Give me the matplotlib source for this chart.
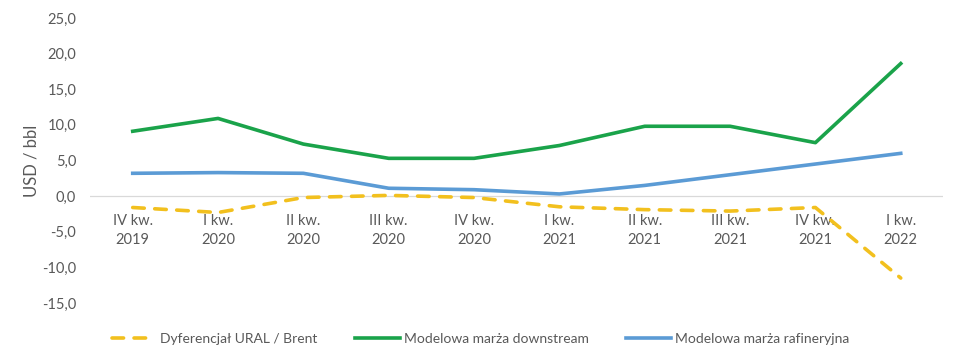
import matplotlib
matplotlib.use("Agg")
import matplotlib.pyplot as plt
from matplotlib.ticker import FuncFormatter, MultipleLocator

plt.rcParams["font.family"] = ["Lato", "DejaVu Sans"]

quarters = ["IV kw.\n2019", "I kw.\n2020", "II kw.\n2020", "III kw.\n2020", "IV kw.\n2020",
            "I kw.\n2021", "II kw.\n2021", "III kw.\n2021", "IV kw.\n2021", "I kw.\n2022"]
ural_brent = [-1.6, -2.3, -0.2, 0.1, -0.2, -1.5, -1.9, -2.1, -1.6, -11.5]
downstream = [9.1, 10.9, 7.3, 5.3, 5.3, 7.1, 9.8, 9.8, 7.5, 18.6]
refinery = [3.2, 3.3, 3.2, 1.1, 0.9, 0.3, 1.5, 3.0, 4.5, 6.0]

GREY = "#595959"
YMIN, YMAX = -15, 25
fig = plt.figure(figsize=(9.61, 3.59), dpi=100)
ax = fig.add_axes([0.0937, 0.156, 0.888, 0.794])

x = range(len(quarters))
ax.axhline(0, color="#d9d9d9", lw=0.9, zorder=1)
ax.plot(x, ural_brent, color="#f2c01e", lw=2.6, dashes=(3.2, 2.9), dash_capstyle="round",
        label="Dyferencjał URAL / Brent", zorder=3)
ax.plot(x, downstream, color="#1aa34a", lw=2.6, label="Modelowa marża downstream",
        solid_joinstyle="round", zorder=3)
ax.plot(x, refinery, color="#5b9bd5", lw=2.6, label="Modelowa marża rafineryjna",
        solid_joinstyle="round", zorder=3)

ax.set_xlim(-0.5, len(quarters) - 0.5)
ax.set_ylim(YMIN, YMAX)
ax.yaxis.set_major_locator(MultipleLocator(5))
ax.yaxis.set_major_formatter(FuncFormatter(lambda v, _: f"{v:.1f}".replace(".", ",")))
ax.set_xticks(list(x))
ax.set_xticklabels(quarters, linespacing=1.45)
for s in ax.spines.values():
    s.set_visible(False)
ax.tick_params(axis="both", length=0, colors=GREY, labelsize=10.5)
ax.tick_params(axis="y", pad=10)
# category labels sit just under the zero line, as in Excel
zero_frac = (0 - YMIN) / (YMAX - YMIN)
for lbl in ax.get_xticklabels():
    lbl.set_y(zero_frac - 0.045)
    lbl.set_va("top")
ax.set_ylabel("USD / bbl", color=GREY, fontsize=12)
ax.yaxis.set_label_coords(-0.059, 0.5)

fig.legend(loc="lower center", bbox_to_anchor=(0.5, 0.005), ncol=3, frameon=False,
           fontsize=10, labelcolor=GREY, handlelength=3.2, handletextpad=0.3,
           columnspacing=2.7)
fig.savefig("out.png", dpi=100)
